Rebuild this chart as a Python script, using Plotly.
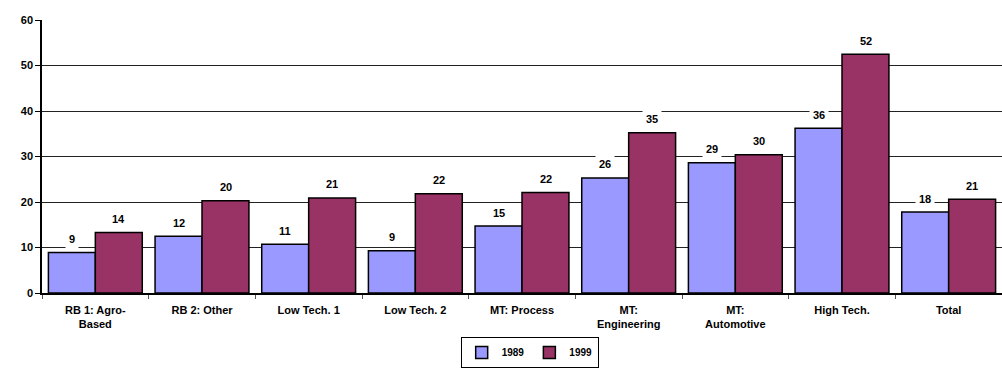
import plotly.graph_objects as go

categories = ["RB 1: Agro-<br>Based", "RB 2: Other", "Low Tech. 1", "Low Tech. 2",
              "MT: Process", "MT:<br>Engineering", "MT:<br>Automotive", "High Tech.", "Total"]
values_1989 = [8.9, 12.5, 10.7, 9.3, 14.7, 25.3, 28.6, 36.2, 17.8]
values_1999 = [13.3, 20.3, 20.9, 21.8, 22.1, 35.2, 30.4, 52.5, 20.6]
labels_1989 = ["9", "12", "11", "9", "15", "26", "29", "36", "18"]
labels_1999 = ["14", "20", "21", "22", "22", "35", "30", "52", "21"]
y_ticks = [0, 10, 20, 30, 40, 50, 60]

FONT = "Liberation Sans, Arial, sans-serif"

fig = go.Figure()
fig.add_trace(go.Bar(name="1989", x=categories, y=values_1989,
                     marker=dict(color="#9999FF", line=dict(color="black", width=1.5))))
fig.add_trace(go.Bar(name="1999", x=categories, y=values_1999,
                     marker=dict(color="#993366", line=dict(color="black", width=1.5))))

annotations = []
for series, labels, shift in [(values_1989, labels_1989, -23.5), (values_1999, labels_1999, 23.5)]:
    for c, v, t in zip(categories, series, labels):
        annotations.append(dict(x=c, y=v, xref="x", yref="y", text="<b>%s</b>" % t,
                                showarrow=False, xshift=shift, yshift=13.5,
                                yanchor="middle", bgcolor="white", borderpad=3,
                                font=dict(family=FONT, size=11, color="black")))

fig.update_layout(
    width=1002, height=368,
    margin=dict(l=42, r=0, t=20, b=74),
    paper_bgcolor="white", plot_bgcolor="white",
    barmode="group", bargap=0.12, bargroupgap=0,
    font=dict(family=FONT, size=11, color="black", weight="bold"),
    showlegend=True,
    legend=dict(orientation="h", x=0.508, xanchor="center", y=-0.273, yanchor="bottom",
                bordercolor="black", borderwidth=1, bgcolor="white",
                font=dict(family=FONT, size=10, color="black", weight="bold"),
                itemwidth=30, tracegroupgap=0, entrywidth=0),
    annotations=annotations,
)
fig.update_yaxes(range=[0, 60], tickvals=y_ticks, showgrid=True, gridcolor="#222",
                 gridwidth=1, showline=True, linecolor="black", linewidth=1.5,
                 ticks="outside", ticklen=5, tickcolor="black", zeroline=False,
                 tickfont=dict(family=FONT, size=11, weight="bold"))
fig.update_xaxes(showline=True, linecolor="black", linewidth=1.5, tickson="boundaries",
                 ticks="outside", ticklen=4, tickcolor="#555", ticklabelstandoff=6,
                 tickfont=dict(family=FONT, size=11, weight="bold"))

fig.write_html("out.html")
